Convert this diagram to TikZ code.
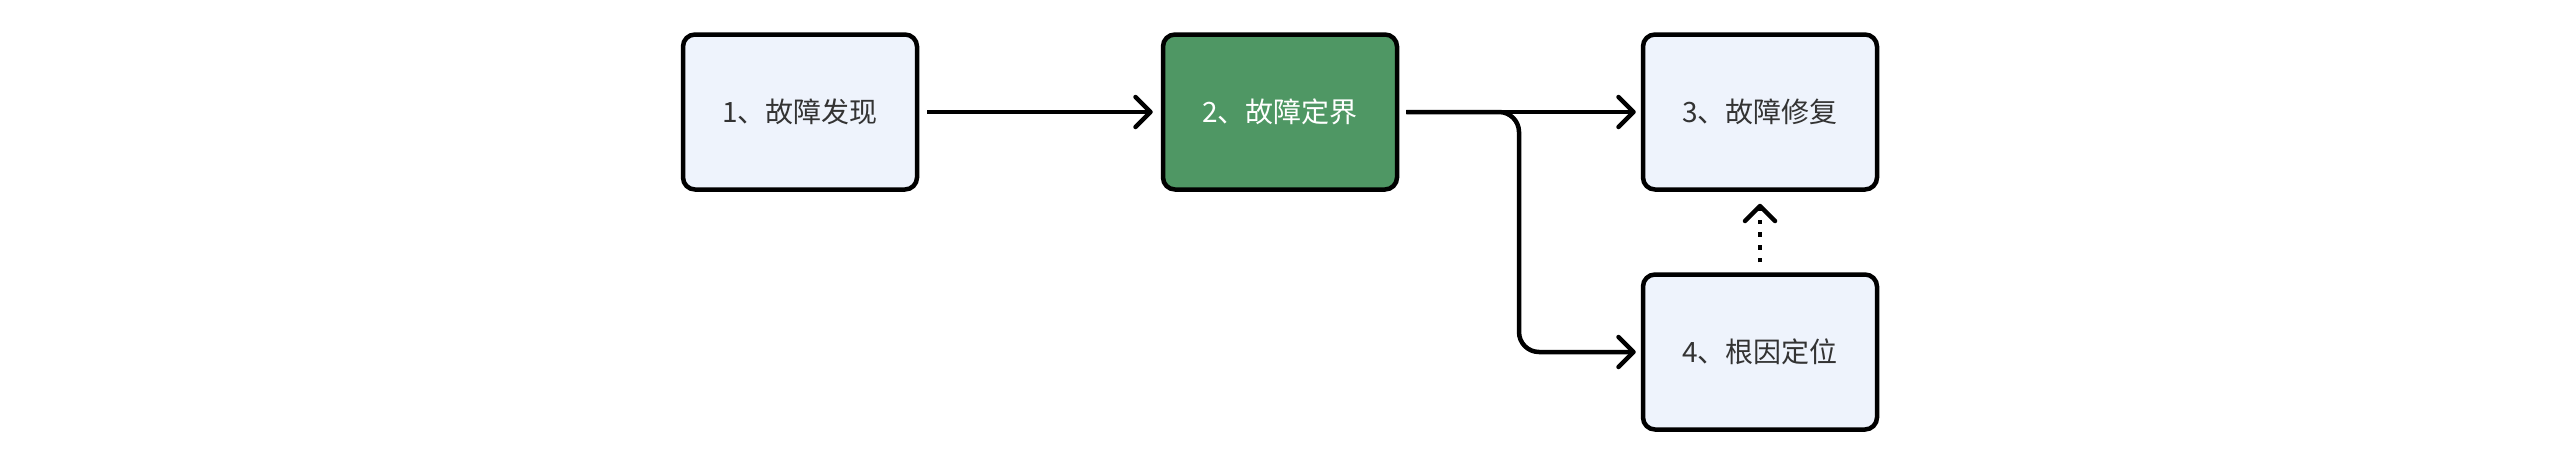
\documentclass[tikz,border=0pt]{standalone}
\usepackage{fontspec}
\setmainfont{Noto Sans CJK SC}
\usetikzlibrary{arrows.meta}
\definecolor{boxfill}{HTML}{EEF3FC}
\definecolor{greenfill}{HTML}{4F9764}
\definecolor{txt}{HTML}{333333}
\tikzset{
  box/.style={draw=black, line width=4.5pt, rounded corners=12pt, minimum width=234pt, minimum height=155pt,
    fill=boxfill, text=txt, font=\fontsize{28}{33}\selectfont, inner sep=0pt},
  greenbox/.style={box, fill=greenfill, text=white},
  arr/.style={line width=4.5pt, -{Straight Barb[length=15pt,width=30pt,line cap=round,line join=round]}},
  dotarr/.style={arr, dash pattern=on 4.5pt off 8.2pt},
}
\begin{document}
\begin{tikzpicture}[x=1pt,y=-1pt]
\useasboundingbox (0,0) rectangle (2560,463);
\node[box] (n1) at (800,112) {1、故障发现};
\node[greenbox] (n2) at (1280,112) {2、故障定界};
\node[box] (n3) at (1760,112) {3、故障修复};
\node[box] (n4) at (1760,352) {4、根因定位};
\coordinate (bx) at (1519,112);
\draw[arr] ([xshift=8pt]n1.east) -- ([xshift=-8pt]n2.west);
\draw[arr] ([xshift=7pt]n2.east) -- ([xshift=-5pt]n3.west);
\draw[arr, rounded corners=20pt] ([xshift=7pt]n2.east) -- (bx) -- (bx |- n4.west) -- ([xshift=-5pt]n4.west);
\draw[dotarr] ([yshift=10pt]n4.north) -- ([yshift=-12pt]n3.south);
\end{tikzpicture}
\end{document}
